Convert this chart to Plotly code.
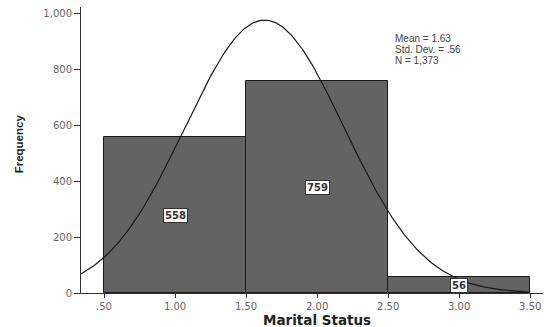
import numpy as np
import plotly.graph_objects as go

bin_centers = [1.0, 2.0, 3.0]
bin_counts = [558, 759, 56]
bin_width = 1.0
mean_val = 1.63
sd_val = 0.56
n_val = 1373
stats_lines = ["Mean = 1.63", "Std. Dev. = .56", "N = 1,373"]
x_tickvals = [0.5, 1.0, 1.5, 2.0, 2.5, 3.0, 3.5]
x_ticktext = [".50", "1.00", "1.50", "2.00", "2.50", "3.00", "3.50"]
y_tickvals = [0, 200, 400, 600, 800, 1000]
y_ticktext = ["0", "200", "400", "600", "800", "1,000"]

fig = go.Figure()
fig.add_trace(go.Bar(
    x=bin_centers, y=bin_counts, width=[bin_width] * 3,
    marker=dict(color="#636363", line=dict(color="#1a1a1a", width=1)),
    showlegend=False, hoverinfo="skip"))

# normal curve from the stated mean, std dev and N
xs = np.linspace(0.338, 3.5, 300)
ys = n_val * bin_width / (sd_val * np.sqrt(2 * np.pi)) * np.exp(-(xs - mean_val) ** 2 / (2 * sd_val ** 2))
fig.add_trace(go.Scatter(x=xs, y=ys, mode="lines", line=dict(color="#1a1a1a", width=1.2),
                         showlegend=False, hoverinfo="skip"))

for xc, cnt in zip(bin_centers, bin_counts):
    fig.add_annotation(x=xc, y=cnt / 2, text="<b>%d</b>" % cnt, showarrow=False,
                       bgcolor="white", bordercolor="#333", borderwidth=1, borderpad=1,
                       font=dict(family="DejaVu Sans", size=10, color="#333"))

for i, line in enumerate(stats_lines):
    fig.add_annotation(xref="paper", yref="paper", x=0.675, y=(293 - 38 - 11 * i) / 286,
                       xanchor="left", yanchor="middle", text=line, showarrow=False,
                       font=dict(family="Liberation Sans, Arial", size=10, color="#444"))

fig.add_annotation(xref="paper", yref="paper", x=0.511, y=-0.094, xanchor="center", yanchor="middle",
                   text="<b>Marital Status</b>", showarrow=False,
                   font=dict(family="DejaVu Sans", size=13.5, color="#222"))
fig.add_annotation(xref="paper", yref="paper", x=-0.134, y=0.52, xanchor="center", yanchor="middle",
                   text="<b>Frequency</b>", showarrow=False, textangle=-90,
                   font=dict(family="Liberation Sans Narrow, Liberation Sans", size=11.5, color="#222"))

fig.update_layout(
    width=544, height=327, margin=dict(l=81, r=1, t=7, b=34),
    plot_bgcolor="white", paper_bgcolor="white", bargap=0,
    xaxis=dict(range=[0.338, 3.59], tickvals=x_tickvals, ticktext=x_ticktext, automargin=False,
               showgrid=False, zeroline=False, showline=True, linecolor="#333", linewidth=1,
               ticks="outside", ticklen=4, tickcolor="#333",
               tickfont=dict(family="DejaVu Sans", size=10, color="#666")),
    yaxis=dict(range=[0, 1025], tickvals=y_tickvals, ticktext=y_ticktext, automargin=False,
               showgrid=False, zeroline=False, showline=True, linecolor="#333", linewidth=1,
               ticks="outside", ticklen=6, tickcolor="#333",
               tickfont=dict(family="DejaVu Sans", size=10, color="#666")),
)
fig.write_html("out.html", config={"displayModeBar": False},
               post_script="document.body.style.margin='0';")
